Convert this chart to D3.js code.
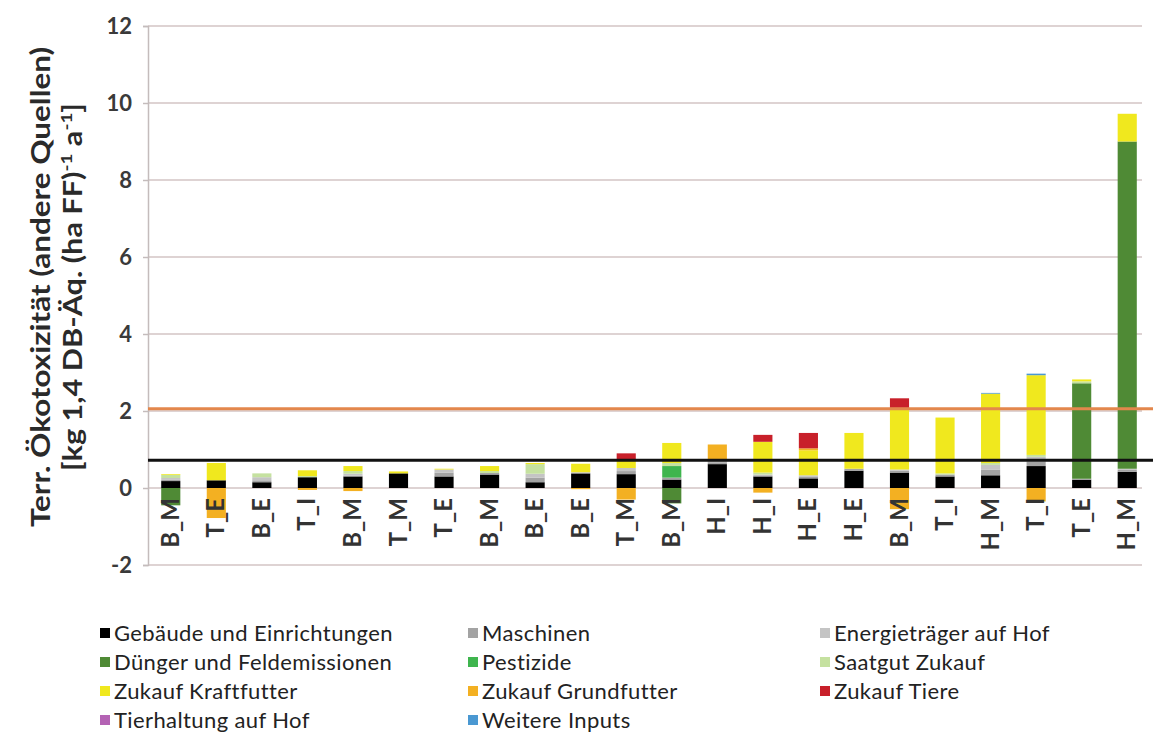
<!DOCTYPE html>
<html>
<head>
<meta charset="utf-8">
<script src="https://cdn.jsdelivr.net/npm/d3@7"></script>
<style>
  html, body { margin: 0; padding: 0; background: #fff; }
  svg { display: block; }
  text { font-family: Lato, "Open Sans", sans-serif; }
</style>
</head>
<body>
<svg id="chart" width="1153" height="744"></svg>
<script>
// Farm categories along the x axis
const categories = ["B_M","T_E","B_E","T_I","B_M","T_M","T_E","B_M","B_E","B_E","T_M",
                    "B_M","H_I","H_I","H_E","H_E","B_M","T_I","H_M","T_I","T_E","H_M"];

// Contributions per source, kg 1,4 DB-Äq. (ha FF)^-1 a^-1
const gebaeude     = [0.18,0.20,0.15,0.28,0.30,0.38,0.30,0.35,0.15,0.38,0.36,0.22,0.62,0.30,0.25,0.45,0.40,0.30,0.33,0.57,0.22,0.42];
const maschinen    = [0.03,0,0.05,0,0.02,0,0.10,0.04,0.12,0,0.08,0.05,0.05,0.03,0.05,0.05,0.05,0.05,0.15,0.12,0,0.05];
const energie      = [0.05,0,0.08,0,0.05,0,0.08,0,0.10,0.03,0.08,0,0.03,0.02,0.03,0,0.03,0,0.12,0.12,0.02,0.03];
const duenger      = [-0.45,0,0,0,0,0,0,0,0,0,0,-0.40,0,0,0,0,0,0,0,0,2.48,8.50];
const pestizide    = [0,0,0,0,0,0,0,0,0,0,0,0.30,0,0,0,0,0,0,0,0,0,0];
const saatgut      = [0.08,0,0.10,0.03,0.07,0,0,0.05,0.25,0,0,0.08,0,0.05,0,0,0,0.03,0.05,0.05,0.05,0];
const kraftfutter  = [0.02,0.45,0,0.15,0.13,0.05,0.02,0.13,0.03,0.22,0.18,0.52,0,0.80,0.65,0.93,1.60,1.45,1.80,2.07,0.05,0.72];
const grundfutter  = [0,-0.78,0,-0.05,-0.08,0,0,0,0,-0.03,-0.30,0,0.43,-0.12,0.05,0,-0.55,0,0,-0.35,0,0];
const tiere        = [0,0,0,0,0,0,0,0,0,0,0.20,0,0,0.18,0.40,0,0.25,0,0,0,0,0];
const tierhaltung  = [0,0,0,0,0,0,0,0,0,0,0,0,0,0,0,0,0,0,0,0,0,0];
const weitere      = [0,0,0,0,0,0,0,0,0,0,0,0,0,0,0,0,0,0,0.02,0.04,0,0];

const seriesNames = ["Gebäude und Einrichtungen","Maschinen","Energieträger auf Hof",
  "Dünger und Feldemissionen","Pestizide","Saatgut Zukauf","Zukauf Kraftfutter",
  "Zukauf Grundfutter","Zukauf Tiere","Tierhaltung auf Hof","Weitere Inputs"];
const seriesValues = [gebaeude, maschinen, energie, duenger, pestizide, saatgut,
  kraftfutter, grundfutter, tiere, tierhaltung, weitere];
const seriesColors = ["#000000","#a3a3a3","#c4c4c4","#4f8a35","#3fb54e","#c5e1a0",
  "#f0e81e","#f3b022","#c8202a","#b463b4","#4a98d2"];

// Reference levels (horizontal lines)
const refLevels = [2.06, 0.72];
const refColors = ["#e3874c", "#111111"];

const yTicks = [-2, 0, 2, 4, 6, 8, 10, 12];

const svg = d3.select("#chart");
const plot = { left: 148, right: 1150, top: 26, bottom: 565 };

const x = d3.scaleBand()
  .domain(d3.range(categories.length))
  .range([plot.left, plot.right])
  .paddingInner(0.58)
  .paddingOuter(0.29);

const y = d3.scaleLinear().domain([-2, 12]).range([plot.bottom, plot.top]);

// Gridlines
svg.append("g")
  .selectAll("line")
  .data(yTicks)
  .join("line")
  .attr("x1", plot.left).attr("x2", 1142)
  .attr("y1", d => y(d)).attr("y2", d => y(d))
  .attr("stroke", "#d3c4c4").attr("stroke-width", 1.5);

// Y axis
const yAxis = svg.append("g")
  .attr("transform", `translate(${plot.left},0)`)
  .call(d3.axisLeft(y).tickValues(yTicks).tickSize(5).tickPadding(11)
    .tickFormat(d => String(d)));
yAxis.select(".domain").attr("stroke", "#c4bcbc").attr("stroke-width", 1.5);
yAxis.selectAll(".tick line").attr("stroke", "#c4bcbc").attr("stroke-width", 1.5);
yAxis.selectAll(".tick text")
  .attr("font-family", "Lato, sans-serif")
  .attr("font-weight", "bold")
  .attr("font-size", 22)
  .attr("fill", "#3a3a3a");

// Stacked bars (positive up, negative down from zero)
const rows = categories.map((c, i) => {
  const r = { idx: i };
  seriesNames.forEach((s, k) => { r[s] = seriesValues[k][i]; });
  return r;
});
const stack = d3.stack().keys(seriesNames).offset(d3.stackOffsetDiverging);
const stacked = stack(rows);

svg.append("g")
  .selectAll("g")
  .data(stacked)
  .join("g")
  .attr("fill", (d, k) => seriesColors[k])
  .selectAll("rect")
  .data(d => d.filter(p => p[1] !== p[0]))
  .join("rect")
  .attr("x", p => x(p.data.idx))
  .attr("width", x.bandwidth())
  .attr("y", p => y(Math.max(p[0], p[1])))
  .attr("height", p => Math.abs(y(p[0]) - y(p[1])));

// Reference lines drawn over the bars
svg.append("g")
  .selectAll("line")
  .data(refLevels)
  .join("line")
  .attr("x1", plot.left).attr("x2", 1153)
  .attr("y1", d => y(d)).attr("y2", d => y(d))
  .attr("stroke", (d, i) => refColors[i])
  .attr("stroke-width", 3);

// Category labels, rotated
svg.append("g")
  .selectAll("text")
  .data(categories)
  .join("text")
  .attr("transform", (d, i) => `translate(${x(i) + x.bandwidth() / 2 + 8},498) rotate(-90)`)
  .attr("text-anchor", "end")
  .attr("font-weight", "bold")
  .attr("font-size", 24)
  .attr("fill", "#333")
  .text(d => d);

// Y axis title
const title = svg.append("g")
  .attr("font-weight", "bold")
  .attr("fill", "#2a2a2a")
  .attr("text-anchor", "middle");
title.append("text")
  .attr("transform", "translate(50,287) rotate(-90)")
  .attr("font-size", 26)
  .attr("textLength", 480)
  .attr("lengthAdjust", "spacingAndGlyphs")
  .text("Terr. Ökotoxizität (andere Quellen)");
const t2 = title.append("text")
  .attr("transform", "translate(82,287) rotate(-90)")
  .attr("font-size", 26)
  .attr("textLength", 368)
  .attr("lengthAdjust", "spacingAndGlyphs");
t2.append("tspan").text("[kg 1,4 DB-Äq. (ha FF)");
t2.append("tspan").attr("dy", -10).attr("font-size", 16).text("-1");
t2.append("tspan").attr("dy", 10).text(" a");
t2.append("tspan").attr("dy", -10).attr("font-size", 16).text("-1");
t2.append("tspan").attr("dy", 10).text("]");

// Legend: three columns, four rows
const legendCols = [100, 468, 820];
const legendRows = [633, 662, 691, 720];
const legend = svg.append("g")
  .selectAll("g")
  .data(seriesNames)
  .join("g")
  .attr("transform", (d, i) => `translate(${legendCols[i % 3]},${legendRows[Math.floor(i / 3)]})`);
legend.append("rect")
  .attr("x", 0).attr("y", -5).attr("width", 10).attr("height", 10)
  .attr("fill", (d, i) => seriesColors[i]);
legend.append("text")
  .attr("x", 14).attr("y", 8)
  .attr("font-size", 22)
  .attr("letter-spacing", 0.4)
  .attr("fill", "#222")
  .text(d => d);
</script>
</body>
</html>
